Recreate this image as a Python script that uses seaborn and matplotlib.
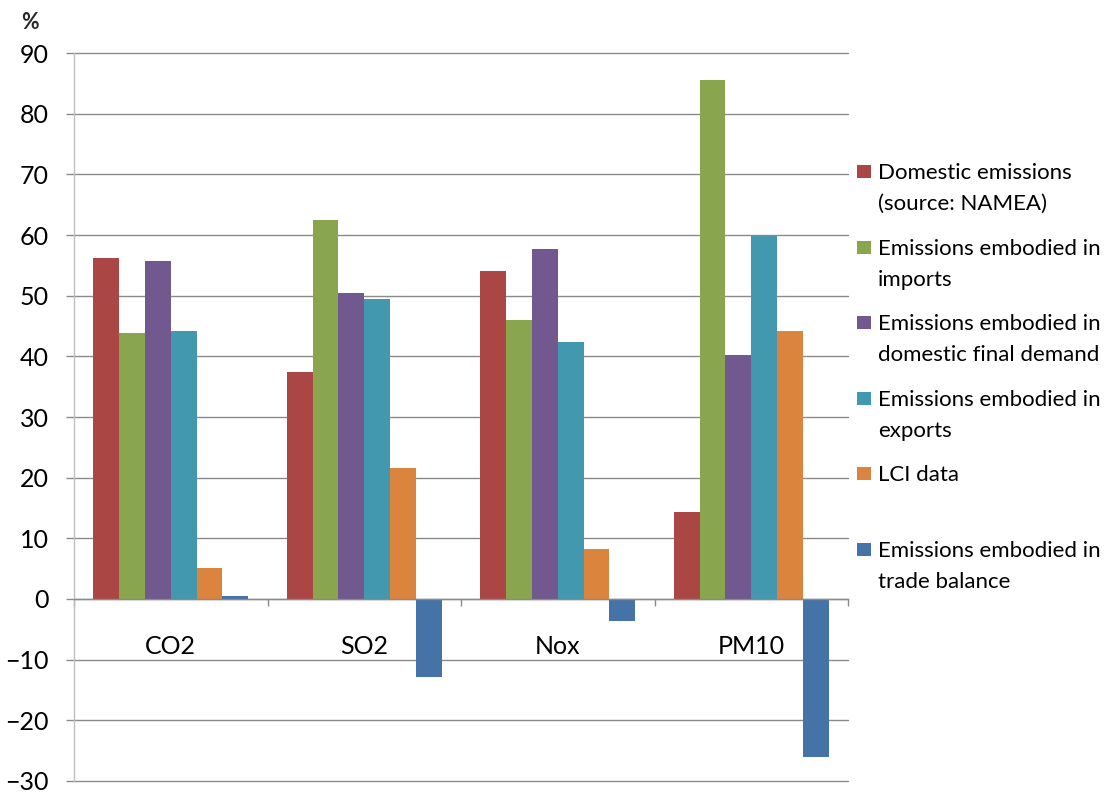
import matplotlib
matplotlib.use("Agg")
import matplotlib.pyplot as plt
import pandas as pd
import seaborn as sns
from matplotlib.patches import Rectangle

# Emission shares (%) by pollutant
pollutants = ["CO2", "SO2", "Nox", "PM10"]
series_names = [
    "Domestic emissions (source: NAMEA)",
    "Emissions embodied in imports",
    "Emissions embodied in domestic final demand",
    "Emissions embodied in exports",
    "LCI data",
    "Emissions embodied in trade balance",
]
legend_lines = [
    ["Domestic emissions", "(source: NAMEA)"],
    ["Emissions embodied in", "imports"],
    ["Emissions embodied in", "domestic final demand"],
    ["Emissions embodied in", "exports"],
    ["LCI data"],
    ["Emissions embodied in", "trade balance"],
]
domestic = [56.2, 37.5, 54.0, 14.3]
imports = [43.8, 62.5, 46.0, 85.6]
final_demand = [55.7, 50.5, 57.7, 40.3]
exports = [44.2, 49.5, 42.4, 59.8]
lci = [5.1, 21.6, 8.2, 44.2]
trade_balance = [0.5, -12.8, -3.6, -26.0]
y_ticks = list(range(-30, 91, 10))

colors = ["#AA4643", "#89A54E", "#71588F", "#4198AF", "#DB843D", "#4572A7"]

all_series = [domestic, imports, final_demand, exports, lci, trade_balance]
rows = []
for name, vals in zip(series_names, all_series):
    for p, v in zip(pollutants, vals):
        rows.append({"Pollutant": p, "Series": name, "Value": v})
df = pd.DataFrame(rows)

sns.set_style("white")
plt.rcParams["font.family"] = ["Lato", "DejaVu Sans"]

W, H = 1117, 794
fig = plt.figure(figsize=(W / 100, H / 100), dpi=100)
ax = fig.add_axes([74 / W, 1 - 781 / H, (848 - 74) / W, (781 - 53) / H])

sns.barplot(
    data=df, x="Pollutant", y="Value", hue="Series",
    order=pollutants, hue_order=series_names, palette=colors,
    width=0.8, saturation=1, errorbar=None, legend=False,
    linewidth=0, ax=ax, zorder=3,
)

ax.set_xlim(-0.5, len(pollutants) - 0.5)
ax.set_ylim(-30, 90)
ax.set_xlabel("")
ax.set_ylabel("")

# gridlines
ax.set_yticks(y_ticks)
ax.yaxis.grid(True, color="#8A8A8A", linewidth=1.0)
ax.xaxis.grid(False)
ax.set_axisbelow(True)
for gl in ax.get_ygridlines():
    gl.set_clip_on(False)

# spines
for s in ["top", "right"]:
    ax.spines[s].set_visible(False)
ax.spines["left"].set_color("#BFBFBF")
ax.spines["left"].set_linewidth(1.0)
ax.spines["bottom"].set_position(("data", 0))
ax.spines["bottom"].set_color("#8A8A8A")
ax.spines["bottom"].set_linewidth(1.0)
ax.spines["bottom"].set_zorder(4)

ax.tick_params(axis="y", length=6, width=1, color="#8A8A8A", pad=12,
               labelsize=18, labelcolor="black", left=True)
ax.tick_params(axis="x", which="major", length=0, pad=26,
               labelsize=18, labelcolor="black")
ax.set_xticks([i - 0.5 for i in range(len(pollutants) + 1)], minor=True)
ax.tick_params(axis="x", which="minor", length=5, width=1,
               color="#8A8A8A", direction="out", bottom=True)

fig.text(21 / W, 1 - 29 / H, "%", fontsize=15.5, fontweight="bold",
         va="baseline", ha="left")

# legend
for i, (lines, col) in enumerate(zip(legend_lines, colors)):
    base = 179 + 75.6 * i
    fig.patches.append(Rectangle((857 / W, 1 - (base - 1) / H), 14 / W, 13 / H,
                                 transform=fig.transFigure, facecolor=col,
                                 edgecolor="none"))
    for j, line in enumerate(lines):
        fig.text(878 / W, 1 - (base + 31 * j) / H, line, fontsize=16,
                 va="baseline", ha="left", color="black")

fig.savefig("out.png", dpi=100, facecolor="white")
